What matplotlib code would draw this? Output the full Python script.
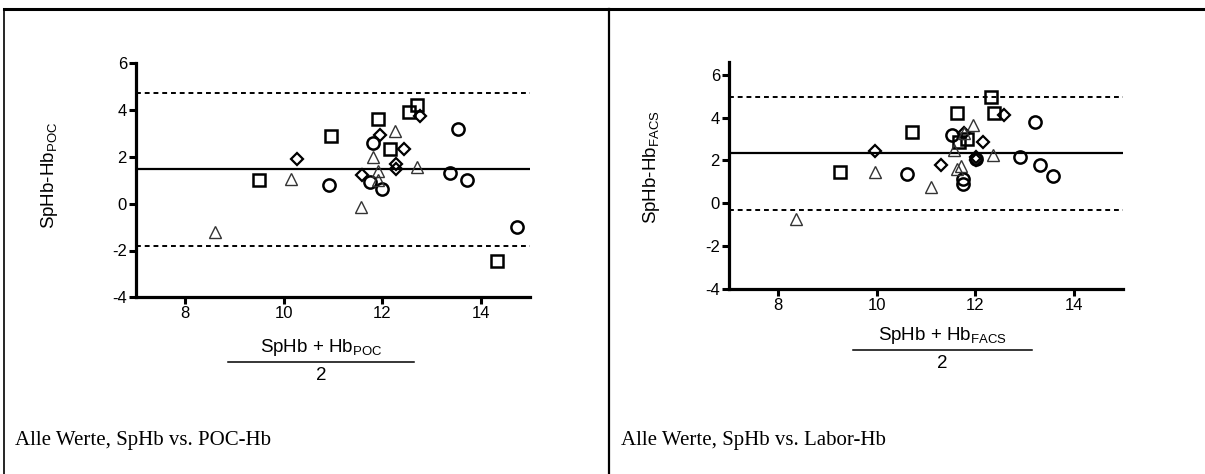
import matplotlib
matplotlib.use("Agg")
import matplotlib.pyplot as plt
from matplotlib.lines import Line2D

plt.rcParams['font.family'] = ['Liberation Sans', 'DejaVu Sans']
plt.rcParams['mathtext.fontset'] = 'custom'
plt.rcParams['mathtext.rm'] = 'Liberation Sans'
plt.rcParams['axes.unicode_minus'] = False

# ---------------- data: left panel (SpHb vs POC-Hb) ----------------
poc_sq_x = [9.50, 10.96, 11.92, 12.15, 12.54, 12.71, 14.33]
poc_sq_y = [1.00, 2.90, 3.62, 2.32, 3.91, 4.22, -2.43]
poc_di_x = [10.26, 11.59, 11.95, 12.27, 12.27, 12.45, 12.76]
poc_di_y = [1.90, 1.23, 2.92, 1.70, 1.50, 2.32, 3.75]
poc_tr_x = [8.60, 10.15, 11.56, 11.81, 11.92, 11.92, 12.26, 12.70]
poc_tr_y = [-1.23, 1.07, -0.14, 2.01, 1.40, 1.01, 3.11, 1.58]
poc_ci_x = [10.92, 11.81, 11.75, 12.00, 13.53, 13.37, 13.73, 14.73]
poc_ci_y = [0.79, 2.61, 0.94, 0.62, 3.20, 1.31, 1.00, -1.01]
poc_mean, poc_upper, poc_lower = 1.48, 4.74, -1.81

# ---------------- data: right panel (SpHb vs Labor-Hb) ----------------
facs_sq_x = [9.26, 10.71, 11.62, 11.67, 11.84, 12.31, 12.39]
facs_sq_y = [1.48, 3.35, 4.21, 2.88, 2.99, 4.98, 4.21]
facs_di_x = [9.96, 11.31, 11.77, 12.02, 12.02, 12.15, 12.58]
facs_di_y = [2.46, 1.79, 3.27, 2.15, 2.00, 2.88, 4.10]
facs_tr_x = [8.36, 9.97, 11.11, 11.56, 11.62, 11.72, 11.77, 11.96, 12.36]
facs_tr_y = [-0.76, 1.45, 0.75, 2.49, 1.59, 1.76, 3.30, 3.66, 2.26]
facs_ci_x = [10.61, 11.52, 11.75, 11.75, 12.02, 12.90, 13.22, 13.31, 13.57]
facs_ci_y = [1.36, 3.19, 1.13, 0.90, 2.08, 2.18, 3.79, 1.79, 1.26]
facs_mean, facs_upper, facs_lower = 2.34, 4.96, -0.33

x_ticks = [8, 10, 12, 14]
y_ticks = [-4, -2, 0, 2, 4, 6]

W, H = 1205, 474
fig = plt.figure(figsize=(W / 100, H / 100), dpi=100)


def fx(px):
    return px / W


def fy(py):
    return 1 - py / H


def panel(rect, sq, di, tr, ci, mean, up, lo, ytop, sub, ylab_x, ylab_y, frac_cx, frac_y, frac_x0, frac_x1):
    ax = fig.add_axes(rect)
    ms = 8.8
    ax.plot(sq[0], sq[1], linestyle='none', marker='s', ms=ms, mfc='none', mec='black', mew=1.8, zorder=3)
    ax.plot(ci[0], ci[1], linestyle='none', marker='o', ms=ms, mfc='none', mec='black', mew=1.8, zorder=3)
    ax.plot(di[0], di[1], linestyle='none', marker='D', ms=6.3, mfc='none', mec='black', mew=1.6, zorder=3)
    ax.plot(tr[0], tr[1], linestyle='none', marker='^', ms=8.5, mfc='none', mec='#333333', mew=1.0, zorder=3)
    ax.axhline(mean, color='black', lw=1.6, zorder=2)
    for v in (up, lo):
        ax.axhline(v, color='black', lw=1.4, ls=(0, (2.5, 2.0)), zorder=2)
    ax.set_xlim(7, 15)
    ax.set_ylim(-4, ytop)
    ax.set_xticks(x_ticks)
    ax.set_yticks(y_ticks)
    ax.tick_params(direction='out', length=5, width=2.2, labelsize=12, pad=1.5)
    for s in ('top', 'right'):
        ax.spines[s].set_visible(False)
    for s in ('left', 'bottom'):
        ax.spines[s].set_linewidth(2.3)
    fig.text(fx(ylab_x), fy(ylab_y), r'SpHb-Hb$_{\mathregular{%s}}$' % sub, rotation=90,
             ha='center', va='center', fontsize=13.5)
    fig.text(fx(frac_cx), fy(frac_y - 14), r'SpHb + Hb$_{\mathregular{%s}}$' % sub,
             ha='center', va='center', fontsize=13.5)
    fig.add_artist(Line2D([fx(frac_x0), fx(frac_x1)], [fy(frac_y), fy(frac_y)], color='black', lw=1.1))
    fig.text(fx(frac_cx), fy(frac_y + 14), '2', ha='center', va='center', fontsize=13.5)
    return ax


panel([fx(136), fy(297.3), 394 / W, 234 / H],
      (poc_sq_x, poc_sq_y), (poc_di_x, poc_di_y), (poc_tr_x, poc_tr_y), (poc_ci_x, poc_ci_y),
      poc_mean, poc_upper, poc_lower, 6, 'POC', 50, 175, 321, 362, 228, 414)

panel([fx(729), fy(288.7), 394 / W, (288.7 - 62.0) / H],
      (facs_sq_x, facs_sq_y), (facs_di_x, facs_di_y), (facs_tr_x, facs_tr_y), (facs_ci_x, facs_ci_y),
      facs_mean, facs_upper, facs_lower, 6.6, 'FACS', 652, 167, 942, 350, 853, 1032)

# table frame
fig.add_artist(Line2D([fx(4), 1], [fy(8.5), fy(8.5)], color='black', lw=2.2))
fig.add_artist(Line2D([fx(4), fx(4)], [fy(8.5), 0], color='black', lw=1.2))
fig.add_artist(Line2D([fx(609), fx(609)], [fy(8.5), 0], color='black', lw=1.6))

# captions
fig.text(fx(15), fy(441), 'Alle Werte, SpHb vs. POC-Hb', family='Liberation Serif',
         fontsize=15, ha='left', va='center')
fig.text(fx(621), fy(441), 'Alle Werte, SpHb vs. Labor-Hb', family='Liberation Serif',
         fontsize=15, ha='left', va='center')

fig.savefig('out.png', dpi=100)
